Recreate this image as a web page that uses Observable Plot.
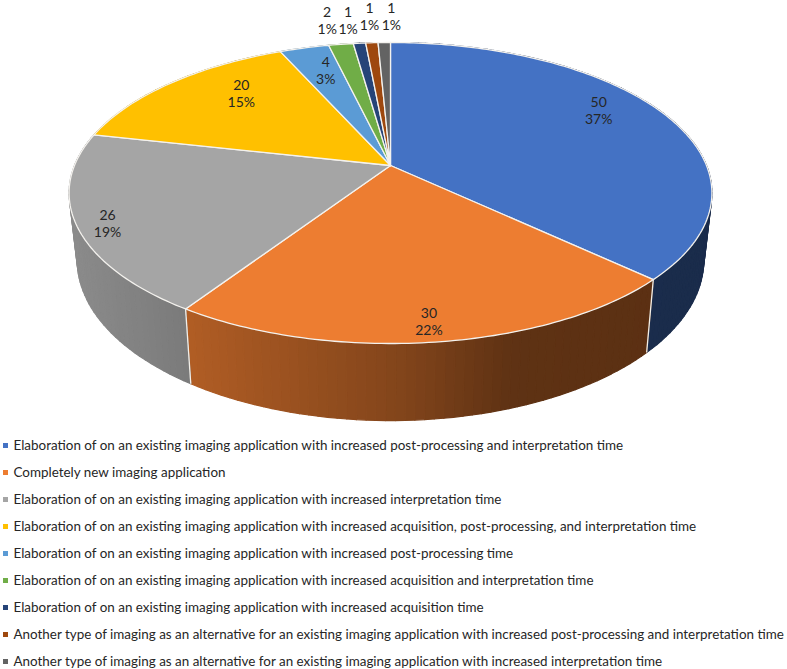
<!DOCTYPE html>
<html>
<head>
<meta charset="utf-8">
<script src="https://cdn.jsdelivr.net/npm/d3@7"></script>
<script src="https://cdn.jsdelivr.net/npm/@observablehq/plot@0.6"></script>
<style>
html,body{margin:0;padding:0;background:#fff;overflow:hidden;width:787px;height:669px}
#chart svg{display:block}
#legend{font-family:Lato,sans-serif;font-size:13.43px;color:#262626;height:237px}
.row{height:27px;line-height:27px;position:relative;padding-left:13.5px;white-space:nowrap}
.sw{position:absolute;left:3px;top:11px;width:5px;height:5px}
</style>
</head>
<body>
<div id="chart"></div>
<div id="legend"></div>
<script>
const categories = [
  "Elaboration of on an existing imaging application with increased post-processing and interpretation time",
  "Completely new imaging application",
  "Elaboration of on an existing imaging application with increased interpretation time",
  "Elaboration of on an existing imaging application with increased acquisition, post-processing, and interpretation time",
  "Elaboration of on an existing imaging application with increased post-processing time",
  "Elaboration of on an existing imaging application with increased acquisition and interpretation time",
  "Elaboration of on an existing imaging application with increased acquisition time",
  "Another type of imaging as an alternative for an existing imaging application with increased post-processing and interpretation time",
  "Another type of imaging as an alternative for an existing imaging application with increased interpretation time"
];
const values = [50, 30, 26, 20, 4, 2, 1, 1, 1];
const colors = ["#4472C4","#ED7D31","#A5A5A5","#FFC000","#5B9BD5","#70AD47","#264478","#9E480E","#636363"];
const labelNudges = [[-37,-6.5],[-1,0],[-2,5],[50,2.5],[14,11.5],[-18,-35],[-14,-34],[-4,-37],[6.6,-37]];

const W = 787, H = 432, CX = 390, rad = Math.PI/180;
const top3d = {cy:165, A:316, B:145.5, k:0.1827};
const bot3d = {cy:230.4, A:308, B:155, k:0.1827};
const project = (p, deg, r=1) => {
  const u = Math.sin(deg*rad)*r, w = Math.cos(deg*rad)*r, d = 1 + p.k*w;
  return {x: CX + p.A*u/d, y: p.cy - p.B*w/d};
};
const total = d3.sum(values);
let acc = 0;
const slices = values.map((v,i)=>{
  const start = acc/total*360; acc += v; const end = acc/total*360;
  return {i, v, start, end, mid:(start+end)/2, color:colors[i], pct:Math.round(v/total*100)};
});
const shade = d3.scaleLinear().domain([70,190,400,510,720]).range([.84,.74,.55,.40,.38]).clamp(true);
const darken = (c,f)=>{const q=d3.rgb(c);return d3.rgb(q.r*f,q.g*f,q.b*f).formatHex();};

// rim sides as narrow strips, shaded by horizontal position
const strips = [];
slices.forEach(s=>{
  const n = Math.max(1, Math.ceil((s.end-s.start)/1.5));
  for(let j=0;j<n;j++){
    const a = s.start+(s.end-s.start)*j/n, b = s.start+(s.end-s.start)*(j+1)/n;
    const pts=[project(top3d,a),project(top3d,b),project(bot3d,b),project(bot3d,a),project(top3d,a)];
    const f = shade((pts[0].x+pts[1].x)/2), fill = darken(s.color,f), id = s.i+"-"+j;
    pts.forEach(p=>strips.push({...p,id,fill}));
  }
});
// top face wedges
const wedges = [];
slices.forEach(s=>{
  const n = Math.max(2, Math.ceil((s.end-s.start)/1));
  wedges.push({...project(top3d,0,0),i:s.i,fill:s.color});
  for(let j=0;j<=n;j++) wedges.push({...project(top3d,s.start+(s.end-s.start)*j/n),i:s.i,fill:s.color});
  wedges.push({...project(top3d,0,0),i:s.i,fill:s.color});
});
// white seams on the visible rim
const seams = slices.map(s=>{
  const a=project(top3d,s.end), b=project(bot3d,s.end);
  return {x1:a.x,y1:a.y,x2:b.x,y2:b.y,deg:s.end};
}).filter(d=>d.deg>90 && d.deg<270);

const labels = slices.map(s=>{
  const p = project(top3d,s.mid,.9), n = labelNudges[s.i];
  return {x:p.x+n[0], y:p.y+n[1], text:`${s.v}\n${s.pct}%`};
});

const chart = Plot.plot({
  width:W, height:H, margin:0,
  x:{domain:[0,W],range:[0,W],axis:null},
  y:{domain:[0,H],range:[0,H],axis:null},
  style:{background:"#fff"},
  marks:[
    Plot.line(strips,{x:"x",y:"y",z:"id",fill:"fill",stroke:"fill",strokeWidth:1.2,curve:"linear"}),
    Plot.link(seams,{x1:"x1",y1:"y1",x2:"x2",y2:"y2",stroke:"#f2efe9",strokeWidth:1.3}),
    Plot.line(wedges,{x:"x",y:"y",z:"i",fill:"fill",stroke:"#f4f2ee",strokeWidth:1.3,strokeLinejoin:"round",curve:"linear"}),
    Plot.text(labels,{x:"x",y:"y",text:"text",fontFamily:"Lato, sans-serif",fontSize:14,lineHeight:1.21,fill:"#262626"})
  ]
});
document.getElementById("chart").append(chart);
const legend = d3.select("#legend");
categories.forEach((c,i)=>{
  const row = legend.append("div").attr("class","row");
  row.append("span").attr("class","sw").style("background",colors[i]);
  row.append("span").attr("class","lt").text(c);
});
</script>
</body>
</html>
